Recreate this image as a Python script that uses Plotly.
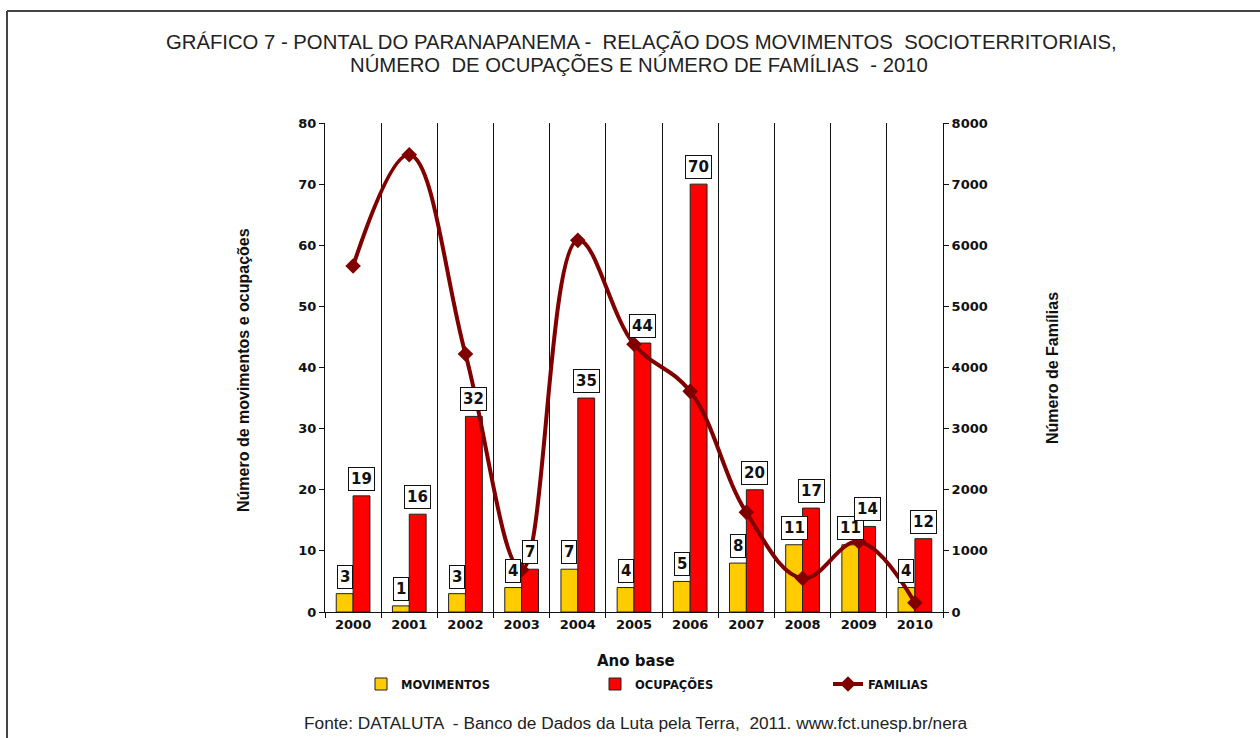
import plotly.graph_objects as go

anos = [2000, 2001, 2002, 2003, 2004, 2005, 2006, 2007, 2008, 2009, 2010]
rotulos_anos = [str(a) for a in anos]
movimentos = [3, 1, 3, 4, 7, 4, 5, 8, 11, 11, 4]
ocupacoes = [19, 16, 32, 7, 35, 44, 70, 20, 17, 14, 12]
familias = [5660, 7480, 4220, 690, 6080, 4380, 3610, 1630, 550, 1150, 150]

# plot area geometry in pixels
L, R, T, B = 325, 943, 123, 612
W, H = R - L, B - T


def px(x):
    return (x - L) / W


def py(y):
    return (B - y) / H


BOLD = "DejaVu Sans"
fig = go.Figure()

fig.add_trace(go.Bar(
    x=anos, y=movimentos, name="MOVIMENTOS",
    marker=dict(color="#FFCC00", line=dict(color="#222222", width=1)),
    yaxis="y", legend="legend",
))
fig.add_trace(go.Bar(
    x=anos, y=ocupacoes, name="OCUPAÇÕES",
    marker=dict(color="#FF0000", line=dict(color="#222222", width=1)),
    yaxis="y", legend="legend2",
))
fig.add_trace(go.Scatter(
    x=anos, y=familias, name="FAMILIAS", yaxis="y2", legend="legend3",
    mode="lines+markers",
    line=dict(color="#800000", width=4, shape="spline", smoothing=1.1),
    marker=dict(symbol="diamond", size=12, color="#800000"),
))

annotations = []
for a, m, o in zip(anos, movimentos, ocupacoes):
    for val, sh in ((m, -8.5), (o, 8.5)):
        annotations.append(dict(
            x=a, y=val, xref="x", yref="y", text=str(val), showarrow=False,
            xshift=sh, yshift=5, xanchor="center", yanchor="bottom",
            font=dict(family=BOLD, size=15, color="#111111", weight="bold"),
            bgcolor="white", bordercolor="#111111", borderwidth=1, borderpad=2,
        ))


def txt(xp, yp, text, font, angle=0):
    return dict(x=px(xp), y=py(yp), xref="paper", yref="paper", showarrow=False,
                xanchor="center", yanchor="middle", text=text, font=font, textangle=angle)


annotations += [
    txt(641, 41, "GRÁFICO 7 - PONTAL DO PARANAPANEMA -  RELAÇÃO DOS MOVIMENTOS  SOCIOTERRITORIAIS,",
        dict(family="Liberation Sans", size=20.3, color="#222222")),
    txt(639, 64, "NÚMERO  DE OCUPAÇÕES E NÚMERO DE FAMÍLIAS  - 2010",
        dict(family="Liberation Sans", size=20.3, color="#222222")),
    txt(243, 370, "Número de movimentos e ocupações",
        dict(family="Liberation Sans", size=16, color="#111111", weight="bold"), -90),
    txt(1052, 368, "Número de Famílias",
        dict(family="Liberation Sans", size=16, color="#111111", weight="bold"), -90),
    txt(636, 661, "Ano base", dict(family=BOLD, size=15, color="#111111", weight="bold")),
    txt(636, 723, "Fonte: DATALUTA  - Banco de Dados da Luta pela Terra,  2011. www.fct.unesp.br/nera",
        dict(family="Liberation Sans", size=17.3, color="#222222")),
]

shapes = [
    dict(type="line", xref="paper", yref="paper", x0=px(7), x1=px(1262), y0=py(11), y1=py(11),
         line=dict(color="#444444", width=2)),
    dict(type="line", xref="paper", yref="paper", x0=px(7), x1=px(7), y0=py(11), y1=py(740),
         line=dict(color="#444444", width=2)),
]

tickfont = dict(family=BOLD, size=13, color="#111111", weight="bold")
legfont = dict(family=BOLD, size=11.5, color="#111111", weight="bold")


def leg(xpix):
    return dict(orientation="h", x=px(xpix), xanchor="left", y=py(684), yanchor="middle",
                font=legfont, bgcolor="rgba(0,0,0,0)", borderwidth=0)


fig.update_layout(
    width=1260, height=738,
    margin=dict(l=L, r=1260 - R, t=T, b=738 - B),
    paper_bgcolor="white", plot_bgcolor="white",
    barmode="group", bargap=0.4, bargroupgap=0,
    xaxis=dict(
        range=[anos[0] - 0.5, anos[-1] + 0.5], tickmode="array", tickvals=anos, ticktext=rotulos_anos,
        ticks="", showgrid=False, zeroline=False,
        minor=dict(tickmode="linear", tick0=anos[0] - 0.5, dtick=1, showgrid=True,
                   gridcolor="#111111", gridwidth=1, ticks="outside", ticklen=5, tickcolor="#111111"),
        showline=True, linecolor="#111111", linewidth=1, tickfont=tickfont,
    ),
    yaxis=dict(
        range=[0, 80], dtick=10, showgrid=False, zeroline=False,
        ticks="outside", ticklen=5, tickcolor="#111111",
        showline=True, linecolor="#111111", linewidth=1, tickfont=tickfont,
    ),
    yaxis2=dict(
        range=[0, 8000], dtick=1000, overlaying="y", side="right", showgrid=False, zeroline=False,
        ticks="outside", ticklen=5, tickcolor="#111111",
        showline=True, linecolor="#111111", linewidth=1, tickfont=tickfont,
    ),
    legend=leg(361),
    legend2=leg(595),
    legend3=leg(828),
    annotations=annotations,
    shapes=shapes,
    showlegend=True,
)

fig.write_html("out.html", config={"displayModeBar": False},
               post_script="document.body.style.margin='0';")
